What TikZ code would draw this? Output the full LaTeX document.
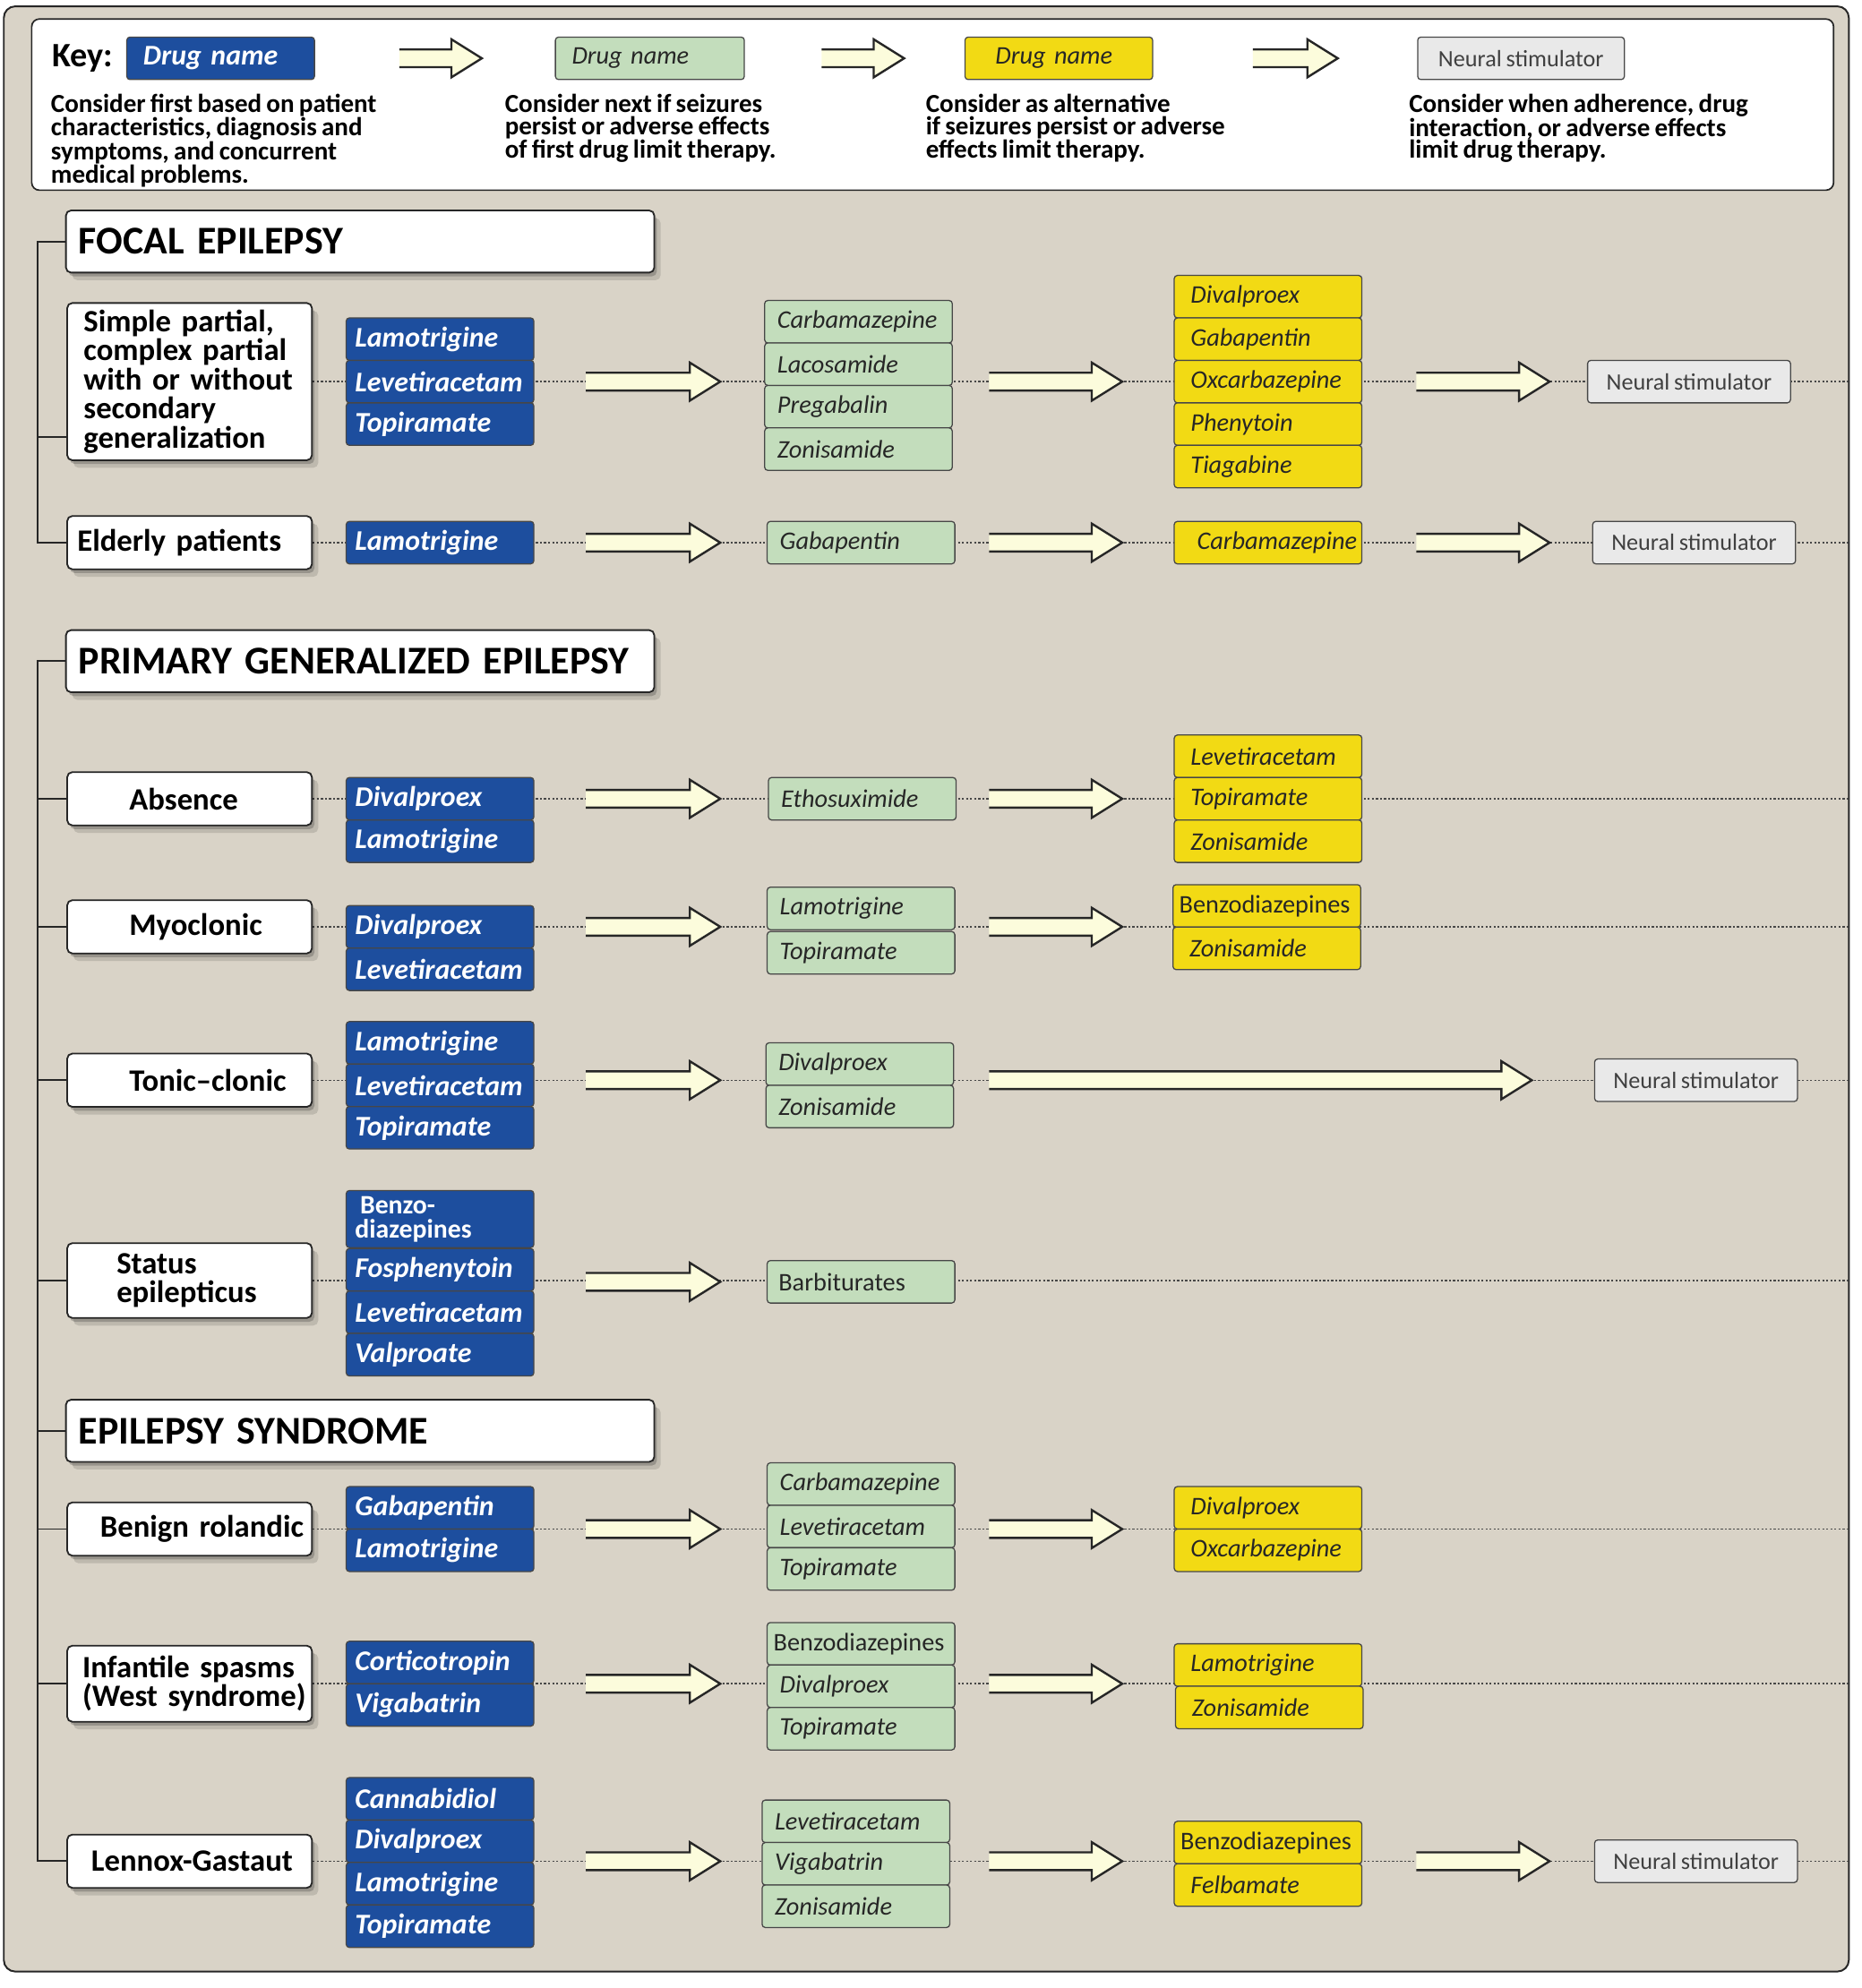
\documentclass[tikz,border=0pt]{standalone}
\usepackage{fontspec}
\setmainfont[WordSpace=0.8]{Carlito}
\usetikzlibrary{calc,shadows}
\definecolor{bg1}{HTML}{D9D3C7}
\definecolor{blue1}{HTML}{1D4E9E}
\definecolor{green1}{HTML}{C3DDBC}
\definecolor{yellow1}{HTML}{F2DA14}
\definecolor{gray1}{HTML}{E9E9E9}
\definecolor{cream1}{HTML}{FCFCDC}
\definecolor{line1}{HTML}{262626}

\pgfdeclarelayer{backdrop}
\pgfdeclarelayer{wires}
\pgfsetlayers{backdrop,wires,main}

\hyphenpenalty=10000
\exhyphenpenalty=10000

\tikzset{
  outerframe/.style={fill=bg1, draw=line1, line width=1.4pt, rounded corners=9pt},
  keyframe/.style={fill=white, draw=line1, line width=1.2pt, rounded corners=6pt, inner sep=0pt},
  keytext/.style={anchor=north west, inner sep=0pt, align=left, font=\fontsize{20.5}{17.5}\selectfont\bfseries},
  boxshadow/.style={drop shadow={shadow xshift=2pt, shadow yshift=-3pt, opacity=0.2, fill=black},
                    drop shadow={shadow xshift=5pt, shadow yshift=-6pt, opacity=0.12, fill=black}},
  header/.style={fill=white, draw=line1, line width=1.3pt, rounded corners=4pt, boxshadow, minimum width=464pt, minimum height=49pt, inner xsep=10pt, text width=444pt, align=left, font=\fontsize{31}{31}\selectfont\bfseries},
  rowbox/.style={fill=white, draw=line1, line width=1.3pt, rounded corners=4pt, boxshadow, minimum width=193pt, minimum height=42pt, inner xsep=4pt, text width=185pt, align=left, font=\fontsize{24.5}{23}\selectfont\bfseries},
  drugbox/.style={draw=line1!85, line width=0.9pt, rounded corners=2.5pt, minimum width=148pt, minimum height=33.5pt, inner ysep=0pt},
  firstdrug/.style={drugbox, fill=blue1, text=white, inner xsep=7pt, text width=134pt, align=left, font=\fontsize{22.5}{22.5}\selectfont\bfseries\itshape},
  nextdrug/.style={drugbox, fill=green1, text=black!85, inner xsep=10pt, text width=128pt, align=left, font=\fontsize{20}{20}\selectfont\itshape},
  altdrug/.style={drugbox, fill=yellow1, text=black!85, inner xsep=13pt, text width=122pt, align=left, font=\fontsize{20}{20}\selectfont\itshape},
  stimbox/.style={drugbox, fill=gray1, text=black!75, minimum width=160pt, align=center, font=\fontsize{18.5}{18.5}\selectfont},
  upright/.style={font=\fontsize{20}{20}\selectfont, inner xsep=5pt, text width=138pt},
  dotline/.style={line1!85, line width=1.1pt, dash pattern=on 1.6pt off 1.6pt},
  treeline/.style={line1, line width=1.4pt},
  arrowline/.style={line1, line width=1.7pt, line join=miter},
}

% fat arrow: start x, tip x, y
\newcommand{\fatarrow}[3]{%
  \fill[cream1] (#1,#3-7) -- (#2-24,#3-7) -- (#2-24,#3-15) -- (#2,#3) -- (#2-24,#3+15) -- (#2-24,#3+7) -- (#1,#3+7) -- cycle;
  \draw[arrowline] (#1,#3-7) -- (#2-24,#3-7) -- (#2-24,#3-15) -- (#2,#3) -- (#2-24,#3+15) -- (#2-24,#3+7) -- (#1,#3+7);
}

\begin{document}
\begin{tikzpicture}[x=1pt,y=-1pt]
\useasboundingbox (0,0) rectangle (1468,1568);

\begin{pgfonlayer}{backdrop}
\draw[outerframe] (3,5) rectangle (1458,1555);
\end{pgfonlayer}

% key
\node[keyframe, minimum width=1421pt, minimum height=135pt] (key) at (735.5,82.5) {};
\node[anchor=west, inner sep=0pt, font=\fontsize{27}{27}\selectfont\bfseries] (keylabel) at (41,46) {Key:};
\node[firstdrug, inner xsep=13pt, text width=122pt] (kfirst) at (174,46) {Drug name};
\node[nextdrug, inner xsep=13pt, text width=123pt] (knext) at (512.5,46) {Drug name};
\node[altdrug, inner xsep=24pt, text width=100pt] (kalt) at (835,46) {Drug name};
\node[stimbox, minimum width=163pt] (kstim) at (1199.5,46) {Neural stimulator};
\fatarrow{315}{380}{46}
\fatarrow{648}{713}{46}
\fatarrow{988}{1055}{46}
\node[keytext] (ktxt1) at (40,74) {Consider first based on patient\\characteristics, diagnosis and\\symptoms, and concurrent\\medical problems.};
\node[keytext] (ktxt2) at (398,74) {Consider next if seizures\\persist or adverse effects\\of first drug limit therapy.};
\node[keytext] (ktxt3) at (730,74) {Consider as alternative\\if seizures persist or adverse\\effects limit therapy.};
\node[keytext] (ktxt4) at (1111,74) {Consider when adherence, drug\\interaction, or adverse effects\\limit drug therapy.};

% focal epilepsy
\node[header] (focal) at (284,190.5) {FOCAL EPILEPSY};

\node[rowbox, minimum height=124pt] (sp) at (149.5,301) {\hspace*{9pt}Simple partial,\\\hspace*{9pt}complex partial\\\hspace*{9pt}with or without\\\hspace*{9pt}secondary\\\hspace*{9pt}generalization};
\node[firstdrug] (sp-f1) at (347,267.5) {Lamotrigine};
\node[firstdrug] (sp-f2) at (347,301) {Levetiracetam};
\node[firstdrug] (sp-f3) at (347,334.5) {Topiramate};
\node[nextdrug] (sp-n1) at (677,253.75) {Carbamazepine};
\node[nextdrug] (sp-n2) at (677,287.25) {Lacosamide};
\node[nextdrug] (sp-n3) at (677,320.75) {Pregabalin};
\node[nextdrug] (sp-n4) at (677,354.25) {Zonisamide};
\node[altdrug] (sp-a1) at (1000,234) {Divalproex};
\node[altdrug] (sp-a2) at (1000,267.5) {Gabapentin};
\node[altdrug] (sp-a3) at (1000,301) {Oxcarbazepine};
\node[altdrug] (sp-a4) at (1000,334.5) {Phenytoin};
\node[altdrug] (sp-a5) at (1000,368) {Tiagabine};
\node[stimbox] (sp-s) at (1332,301) {Neural stimulator};
\coordinate (sp-end) at (1458,301);
\fatarrow{462}{568}{301}
\fatarrow{780}{885}{301}
\fatarrow{1117}{1222}{301}

\node[rowbox] (eld) at (149.5,428) {\hspace*{4pt}Elderly patients};
\node[firstdrug] (eld-f1) at (347,428) {Lamotrigine};
\node[nextdrug] (eld-n1) at (679,428) {Gabapentin};
\node[altdrug, inner xsep=18pt, text width=112pt] (eld-a1) at (1000,428) {Carbamazepine};
\node[stimbox] (eld-s) at (1336,428) {Neural stimulator};
\coordinate (eld-end) at (1458,428);
\fatarrow{462}{568}{428}
\fatarrow{780}{885}{428}
\fatarrow{1117}{1222}{428}

% primary generalized epilepsy
\node[header] (pge) at (284,521.5) {PRIMARY GENERALIZED EPILEPSY};

\node[rowbox] (abs) at (149.5,630) {\hspace*{45pt}Absence};
\node[firstdrug] (abs-f1) at (347,630) {Divalproex};
\node[firstdrug] (abs-f2) at (347,663.5) {Lamotrigine};
\node[nextdrug] (abs-n1) at (680,630) {Ethosuximide};
\node[altdrug] (abs-a1) at (1000,596.5) {Levetiracetam};
\node[altdrug] (abs-a2) at (1000,630) {Topiramate};
\node[altdrug] (abs-a3) at (1000,663.5) {Zonisamide};
\coordinate (abs-end) at (1458,630);
\fatarrow{462}{568}{630}
\fatarrow{780}{885}{630}

\node[rowbox] (myo) at (149.5,731) {\hspace*{45pt}Myoclonic};
\node[firstdrug] (myo-f1) at (347,731) {Divalproex};
\node[firstdrug] (myo-f2) at (347,764.5) {Levetiracetam};
\node[nextdrug] (myo-n1) at (679,716.5) {Lamotrigine};
\node[nextdrug] (myo-n2) at (679,751.5) {Topiramate};
\node[altdrug, upright] (myo-a1) at (999,714.5) {Benzodiazepines};
\node[altdrug] (myo-a2) at (999,748) {Zonisamide};
\coordinate (myo-end) at (1458,731);
\fatarrow{462}{568}{731}
\fatarrow{780}{885}{731}

\node[rowbox] (ton) at (149.5,852) {\hspace*{45pt}Tonic–clonic};
\node[firstdrug] (ton-f1) at (347,822.5) {Lamotrigine};
\node[firstdrug] (ton-f2) at (347,856) {Levetiracetam};
\node[firstdrug] (ton-f3) at (347,889.5) {Topiramate};
\node[nextdrug] (ton-n1) at (678,839.25) {Divalproex};
\node[nextdrug] (ton-n2) at (678,872.75) {Zonisamide};
\node[stimbox] (ton-s) at (1337.5,852) {Neural stimulator};
\coordinate (ton-end) at (1458,852);
\fatarrow{462}{568}{852}
\fatarrow{780}{1208}{852}

\node[rowbox, minimum height=59pt] (sta) at (149.5,1010) {\hspace*{35pt}Status\\\hspace*{35pt}epilepticus};
\node[firstdrug, font=\fontsize{21}{19}\selectfont\bfseries, minimum height=45pt] (sta-f1) at (347,961.5) {\hspace*{4pt}Benzo-\\diazepines};
\node[firstdrug] (sta-f2) at (347,1001.5) {Fosphenytoin};
\node[firstdrug] (sta-f3) at (347,1035) {Levetiracetam};
\node[firstdrug] (sta-f4) at (347,1068.5) {Valproate};
\node[nextdrug, upright] (sta-n1) at (679,1011) {\hspace*{4pt}Barbiturates};
\coordinate (sta-end) at (1458,1010);
\fatarrow{462}{568}{1011}

% epilepsy syndrome
\node[header] (syn) at (284,1128.5) {EPILEPSY SYNDROME};

\node[rowbox] (ben) at (149.5,1206) {\hspace*{22pt}Benign rolandic};
\node[firstdrug] (ben-f1) at (347,1189.25) {Gabapentin};
\node[firstdrug] (ben-f2) at (347,1222.75) {Lamotrigine};
\node[nextdrug] (ben-n1) at (679,1170.5) {Carbamazepine};
\node[nextdrug] (ben-n2) at (679,1204) {Levetiracetam};
\node[nextdrug] (ben-n3) at (679,1237.5) {Topiramate};
\node[altdrug] (ben-a1) at (1000,1189.25) {Divalproex};
\node[altdrug] (ben-a2) at (1000,1222.75) {Oxcarbazepine};
\coordinate (ben-end) at (1458,1206);
\fatarrow{462}{568}{1206}
\fatarrow{780}{885}{1206}

\node[rowbox, minimum height=60pt] (inf) at (149.5,1328) {\hspace*{8pt}Infantile spasms\\\hspace*{8pt}(West syndrome)};
\node[firstdrug] (inf-f1) at (347,1311.25) {Corticotropin};
\node[firstdrug] (inf-f2) at (347,1344.75) {Vigabatrin};
\node[nextdrug, upright] (inf-n1) at (679,1296.5) {Benzodiazepines};
\node[nextdrug] (inf-n2) at (679,1330) {Divalproex};
\node[nextdrug] (inf-n3) at (679,1363.5) {Topiramate};
\node[altdrug] (inf-a1) at (1000,1313.25) {Lamotrigine};
\node[altdrug] (inf-a2) at (1001,1346.75) {Zonisamide};
\coordinate (inf-end) at (1458,1328);
\fatarrow{462}{568}{1328}
\fatarrow{780}{885}{1328}

\node[rowbox] (lg) at (149.5,1468) {\hspace*{15pt}Lennox-Gastaut};
\node[firstdrug] (lg-f1) at (347,1418.75) {Cannabidiol};
\node[firstdrug] (lg-f2) at (347,1452.25) {Divalproex};
\node[firstdrug] (lg-f3) at (347,1485.75) {Lamotrigine};
\node[firstdrug] (lg-f4) at (347,1519.25) {Topiramate};
\node[nextdrug] (lg-n1) at (675,1436.5) {Levetiracetam};
\node[nextdrug] (lg-n2) at (675,1470) {Vigabatrin};
\node[nextdrug] (lg-n3) at (675,1503.5) {Zonisamide};
\node[altdrug, upright] (lg-a1) at (1000,1453.25) {Benzodiazepines};
\node[altdrug] (lg-a2) at (1000,1486.75) {Felbamate};
\node[stimbox] (lg-s) at (1337.5,1468) {Neural stimulator};
\coordinate (lg-end) at (1458,1468);
\fatarrow{462}{568}{1468}
\fatarrow{780}{885}{1468}
\fatarrow{1117}{1222}{1468}

\begin{pgfonlayer}{wires}
% dotted row lines
\draw[dotline] (sp.east) -- (sp-end);
\draw[dotline] (eld.east) -- (eld-end);
\draw[dotline] (abs.east) -- (abs-end);
\draw[dotline] (myo.east) -- (myo-end);
\draw[dotline] (ton.east) -- (ton-end);
\draw[dotline] (sta.east) -- (sta-end);
\draw[dotline] (ben.east) -- (ben-end);
\draw[dotline] (inf.east) -- (inf-end);
\draw[dotline] (lg.east) -- (lg-end);
% tree
\draw[treeline] (focal.west) -| ($(eld.west)+(-23,0)$) -- (eld.west);
\draw[treeline] ($(sp.west)+(-23,44)$) -- ($(sp.west)+(0,44)$);
\draw[treeline] (pge.west) -| ($(lg.west)+(-23,0)$) -- (lg.west);
\draw[treeline] (abs.west) -- ++(-23,0);
\draw[treeline] (myo.west) -- ++(-23,0);
\draw[treeline] (ton.west) -- ++(-23,0);
\draw[treeline] (sta.west) -- ++(-23,0);
\draw[treeline] (syn.west) -- ++(-22,0);
\draw[treeline] (ben.west) -- ++(-23,0);
\draw[treeline] (inf.west) -- ++(-23,0);
\end{pgfonlayer}

\end{tikzpicture}
\end{document}
